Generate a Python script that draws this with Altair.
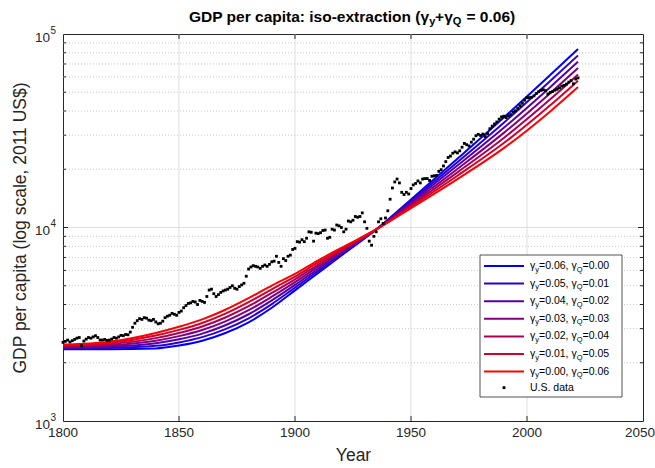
import altair as alt
import pandas as pd

FONT = "Liberation Sans"
AX = "#262626"
NBSP = "\u00a0"

# ---------------- model runs (GDP per capita, 2011 US$) ----------------
model_years = [1800, 1820, 1840, 1850, 1860, 1870, 1880, 1890, 1900,
               1910, 1920, 1935, 1950, 1970, 1990, 2010, 2022]

gamma_y = ["0.06", "0.05", "0.04", "0.03", "0.02", "0.01", "0.00"]
gamma_q = ["0.00", "0.01", "0.02", "0.03", "0.04", "0.05", "0.06"]
run_colors = ["#0000ff", "#2b00d4", "#5500aa", "#800080", "#aa0055", "#d4002b", "#ff0000"]

gdp_y06_q00 = [2350, 2350, 2371, 2455, 2600, 2851, 3236, 3846, 4732, 5821, 7161, 9770, 13964, 22646, 36983, 61380, 83560]
gdp_y05_q01 = [2371, 2385, 2445, 2548, 2713, 2985, 3395, 4020, 4889, 5968, 7272, 9770, 13725, 21753, 34810, 57110, 77500]
gdp_y04_q02 = [2393, 2421, 2522, 2644, 2829, 3126, 3562, 4201, 5050, 6119, 7384, 9770, 13490, 20893, 32756, 53120, 71890]
gdp_y03_q03 = [2415, 2458, 2600, 2745, 2951, 3273, 3737, 4390, 5218, 6274, 7499, 9770, 13259, 20069, 30832, 49430, 66680]
gdp_y02_q04 = [2438, 2495, 2681, 2849, 3079, 3428, 3920, 4589, 5391, 6432, 7616, 9770, 13032, 19276, 29020, 45990, 61840]
gdp_y01_q05 = [2460, 2532, 2765, 2957, 3211, 3589, 4114, 4795, 5569, 6595, 7732, 9770, 12809, 18515, 27308, 42790, 57370]
gdp_y00_q06 = [2483, 2570, 2851, 3069, 3350, 3758, 4315, 5012, 5754, 6761, 7852, 9770, 12589, 17783, 25704, 39810, 53210]

model_runs = [gdp_y06_q00, gdp_y05_q01, gdp_y04_q02, gdp_y03_q03,
              gdp_y02_q04, gdp_y01_q05, gdp_y00_q06]

# ---------------- U.S. data (annual, 1800-2022) ----------------
us_years = list(range(1800, 2023))
us_gdp = [
    2550, 2580, 2620, 2560, 2600, 2640, 2680, 2700, 2450, 2590,
    2650, 2700, 2680, 2720, 2760, 2700, 2620, 2620, 2640, 2610,
    2620, 2650, 2700, 2680, 2720, 2770, 2760, 2800, 2790, 2880,
    3050, 3200, 3300, 3380, 3350, 3420, 3400, 3320, 3300, 3350,
    3250, 3180, 3200, 3280, 3420, 3480, 3520, 3600, 3560, 3520,
    3640, 3700, 3850, 3950, 4050, 4080, 4150, 4120, 4000, 4200,
    4150, 4100, 4400, 4750, 4800, 4550, 4400, 4500, 4620, 4700,
    4750, 4800, 4900, 5000, 4850, 4800, 4950, 5050, 5150, 5600,
    6100, 6250, 6350, 6300, 6250, 6150, 6300, 6400, 6300, 6450,
    6650, 6700, 7100, 6600, 6300, 6900, 6750, 7100, 7200, 7700,
    7800, 8450, 8400, 8650, 8450, 8800, 9500, 9450, 8500, 9350,
    9300, 9400, 9650, 9700, 8800, 8900, 9800, 9700, 10300, 10200,
    10000, 9500, 9800, 10800, 10700, 10900, 11400, 11300, 11400, 11900,
    10700, 9900, 8500, 8100, 9000, 9500, 10700, 11100, 10500, 11200,
    12200, 14000, 16000, 17200, 17800, 17000, 15200, 14800, 15200, 14900,
    15900, 16600, 16900, 17400, 17000, 17800, 17900, 17900, 17500, 18400,
    18500, 18600, 19500, 19900, 20800, 21900, 23000, 23400, 24200, 24600,
    24300, 24900, 26000, 27200, 26800, 26400, 27600, 28600, 29800, 30300,
    29900, 30400, 29500, 30600, 32400, 33400, 34300, 35100, 36300, 37300,
    37600, 37000, 37800, 38300, 39500, 40100, 41300, 42600, 43900, 45500,
    46900, 46900, 47100, 47900, 49200, 50300, 51100, 51500, 51000, 49000,
    49900, 50400, 51200, 51800, 52700, 53800, 54200, 55100, 56400, 57400,
    55300, 58500, 59300,
]

# ---------------- axes / grid ----------------
x_ticks = [1800, 1850, 1900, 1950, 2000, 2050]
y_ticks = [1000, 10000, 100000]
y_exponents = ["3", "4", "5"]
y_minor = [2000, 3000, 4000, 5000, 6000, 7000, 8000, 9000,
           20000, 30000, 40000, 50000, 60000, 70000, 80000, 90000]

PLOT_W, PLOT_H = 580, 387
LAB_FS, TITLE_FS = 13.5, 17.5

xs = alt.Scale(domain=[1800, 2050], nice=False, zero=False)
ys = alt.Scale(type="log", domain=[1000, 100000], nice=False)

# axes carry only the titles; tick labels are drawn as text layers below
x_axis = alt.Axis(values=x_ticks, grid=False, ticks=False, domain=False, labels=False,
                  title="Year", titleFontSize=TITLE_FS, titleFontWeight="normal",
                  titlePadding=25, titleColor=AX)
y_axis = alt.Axis(values=y_ticks, grid=False, ticks=False, domain=False, labels=False,
                  title="GDP per capita (log scale, 2011 US$)", titleFontSize=TITLE_FS,
                  titleFontWeight="normal", titlePadding=34, titleColor=AX)


def X(field):
    return alt.X(field, scale=xs, axis=x_axis)


def Y(field):
    return alt.Y(field, scale=ys, axis=y_axis)


xgrid_df = pd.DataFrame({"year": x_ticks[1:-1]})
ymin_df = pd.DataFrame({"v": y_minor})
ymaj_df = pd.DataFrame({"v": [10000]})

x_grid = alt.Chart(xgrid_df).mark_rule(color="#dfdfdf", strokeWidth=1).encode(x=X("year:Q"))
y_grid_minor = alt.Chart(ymin_df).mark_rule(color="#c8c8c8", strokeWidth=1, strokeDash=[1, 2]).encode(
    y=Y("v:Q"))
y_grid_major = alt.Chart(ymaj_df).mark_rule(color="#dfdfdf", strokeWidth=1).encode(y=Y("v:Q"))

# ---------------- model curves (blue drawn first, red last) ----------------
curve_layers = []
for i, vals in enumerate(model_runs):
    df = pd.DataFrame({"year": model_years, "gdp": vals})
    curve_layers.append(
        alt.Chart(df).mark_line(strokeWidth=2, interpolate="monotone", color=run_colors[i]).encode(
            x=X("year:Q"), y=Y("gdp:Q")))

us_df = pd.DataFrame({"year": us_years, "gdp": us_gdp})
us_points = alt.Chart(us_df).mark_square(size=8, color="black", opacity=1).encode(
    x=X("year:Q"), y=Y("gdp:Q"))

# ---------------- inward ticks on all four sides ----------------
xt_df = pd.DataFrame({"year": x_ticks[1:-1]})
tick_b = alt.Chart(xt_df).mark_rule(color=AX).encode(
    x=X("year:Q"), y=alt.value(PLOT_H), y2=alt.value(PLOT_H - 5))
tick_t = alt.Chart(xt_df).mark_rule(color=AX).encode(
    x=X("year:Q"), y=alt.value(0), y2=alt.value(5))
tick_l = alt.Chart(ymaj_df).mark_rule(color=AX).encode(
    y=Y("v:Q"), x=alt.value(0), x2=alt.value(5))
tick_r = alt.Chart(ymaj_df).mark_rule(color=AX).encode(
    y=Y("v:Q"), x=alt.value(PLOT_W), x2=alt.value(PLOT_W - 5))
mtick_l = alt.Chart(ymin_df).mark_rule(color=AX).encode(
    y=Y("v:Q"), x=alt.value(0), x2=alt.value(3))
mtick_r = alt.Chart(ymin_df).mark_rule(color=AX).encode(
    y=Y("v:Q"), x=alt.value(PLOT_W), x2=alt.value(PLOT_W - 3))

# ---------------- tick labels ----------------
xl_df = pd.DataFrame({"year": x_ticks[:-1], "lab": [str(v) for v in x_ticks[:-1]]})
xl_last = pd.DataFrame({"year": x_ticks[-1:], "lab": [str(x_ticks[-1])]})
x_labels = alt.Chart(xl_df).mark_text(baseline="middle", fontSize=LAB_FS, font=FONT, color=AX).encode(
    x=X("year:Q"), y=alt.value(PLOT_H + 12), text="lab:N")
x_label_end = alt.Chart(xl_last).mark_text(baseline="middle", fontSize=LAB_FS, font=FONT, color=AX,
                                           dx=-3).encode(
    x=X("year:Q"), y=alt.value(PLOT_H + 12), text="lab:N")

yl_df = pd.DataFrame({"v": y_ticks, "exp": y_exponents})
y_lab_base = alt.Chart(yl_df).mark_text(align="right", baseline="middle", fontSize=LAB_FS, font=FONT,
                                        color=AX, dy=3.5).encode(
    y=Y("v:Q"), x=alt.value(-13), text=alt.value("10"))
y_lab_exp = alt.Chart(yl_df).mark_text(align="left", baseline="middle", fontSize=10, font=FONT,
                                       color=AX, dy=-3.5).encode(
    y=Y("v:Q"), x=alt.value(-12.5), text="exp:N")

# ---------------- legend box (lower right, inside the axes) ----------------
LEG_X0, LEG_X1, LEG_Y0, LEG_Y1 = 417, 559, 221, 363
ROW_Y0, ROW_GAP = 232, 17.6
LINE_X0, LINE_X1, TXT_X = 421, 461, 467
LFS, LSUB = 10.5, 7.5

one = pd.DataFrame({"k": [0]})
leg_box = alt.Chart(one).mark_rect(fill="white", stroke=AX, strokeWidth=0.8).encode(
    x=alt.value(LEG_X0), x2=alt.value(LEG_X1), y=alt.value(LEG_Y0), y2=alt.value(LEG_Y1))

leg_df = pd.DataFrame({
    "ly": [ROW_Y0 + k * ROW_GAP for k in range(7)],
    "color": run_colors,
    "mid": ["=" + g + ", γ" for g in gamma_y],
    "end": ["=" + g for g in gamma_q],
})
leg_lines = alt.Chart(leg_df).mark_rule(strokeWidth=2).encode(
    x=alt.value(LINE_X0), x2=alt.value(LINE_X1),
    y=alt.Y("ly:Q", scale=None), color=alt.Color("color:N", scale=None))


def leg_text(dx, text_field=None, text=None, size=LFS, dy=0):
    enc = dict(x=alt.value(TXT_X + dx), y=alt.Y("ly:Q", scale=None))
    enc["text"] = alt.Text(text_field) if text_field else alt.value(text)
    return alt.Chart(leg_df).mark_text(align="left", baseline="middle", font=FONT,
                                       fontSize=size, dy=dy, color="black").encode(**enc)


leg_g1 = leg_text(0, text="γ")
leg_sy = leg_text(5.25, text="y", size=LSUB, dy=3.5)
leg_mid = leg_text(9.0, text_field="mid:N")
leg_sq = leg_text(46.65, text="Q", size=LSUB, dy=3.5)
leg_end = leg_text(52.5, text_field="end:N")

us_row_y = ROW_Y0 + 7 * ROW_GAP - 1.5
leg_dot = alt.Chart(one).mark_square(size=8, color="black", opacity=1).encode(
    x=alt.value((LINE_X0 + LINE_X1) / 2), y=alt.value(us_row_y))
leg_us = alt.Chart(one).mark_text(align="left", baseline="middle", font=FONT, fontSize=LFS,
                                  color="black").encode(
    x=alt.value(TXT_X), y=alt.value(us_row_y), text=alt.value("U.S. data"))

# ---------------- title with subscripts ----------------
TFS, TSUB, TY = 15.5, 11, -17
T_END1 = 366


def title_piece(x, text, size=TFS, align="left", dy=0):
    return alt.Chart(one).mark_text(align=align, baseline="middle", font=FONT, fontSize=size,
                                    fontWeight="bold", dy=dy, color="black").encode(
        x=alt.value(x), y=alt.value(TY), text=alt.value(text))


title_layers = [
    title_piece(T_END1, "GDP per capita: iso-extraction (γ", align="right"),
    title_piece(T_END1 + 0.3, "y", size=TSUB, dy=5),
    title_piece(T_END1 + 6.1, "+γ"),
    title_piece(T_END1 + 23.8, "Q", size=TSUB, dy=5),
    title_piece(T_END1 + 37.5, "=" + NBSP + "0.06)"),
]

chart = alt.layer(
    x_grid, y_grid_minor, y_grid_major,
    *curve_layers, us_points,
    tick_b, tick_t, tick_l, tick_r, mtick_l, mtick_r,
    x_labels, x_label_end, y_lab_base, y_lab_exp,
    leg_box, leg_lines, leg_g1, leg_sy, leg_mid, leg_sq, leg_end, leg_dot, leg_us,
    *title_layers,
).properties(
    width=PLOT_W, height=PLOT_H,
    autosize=alt.AutoSizeParams(type="none"),
    padding={"left": 63, "top": 34, "right": 12, "bottom": 47},
).configure(font=FONT).configure_view(stroke=AX, strokeWidth=1)

chart.save("out.html", embed_options={"renderer": "svg", "actions": False})
